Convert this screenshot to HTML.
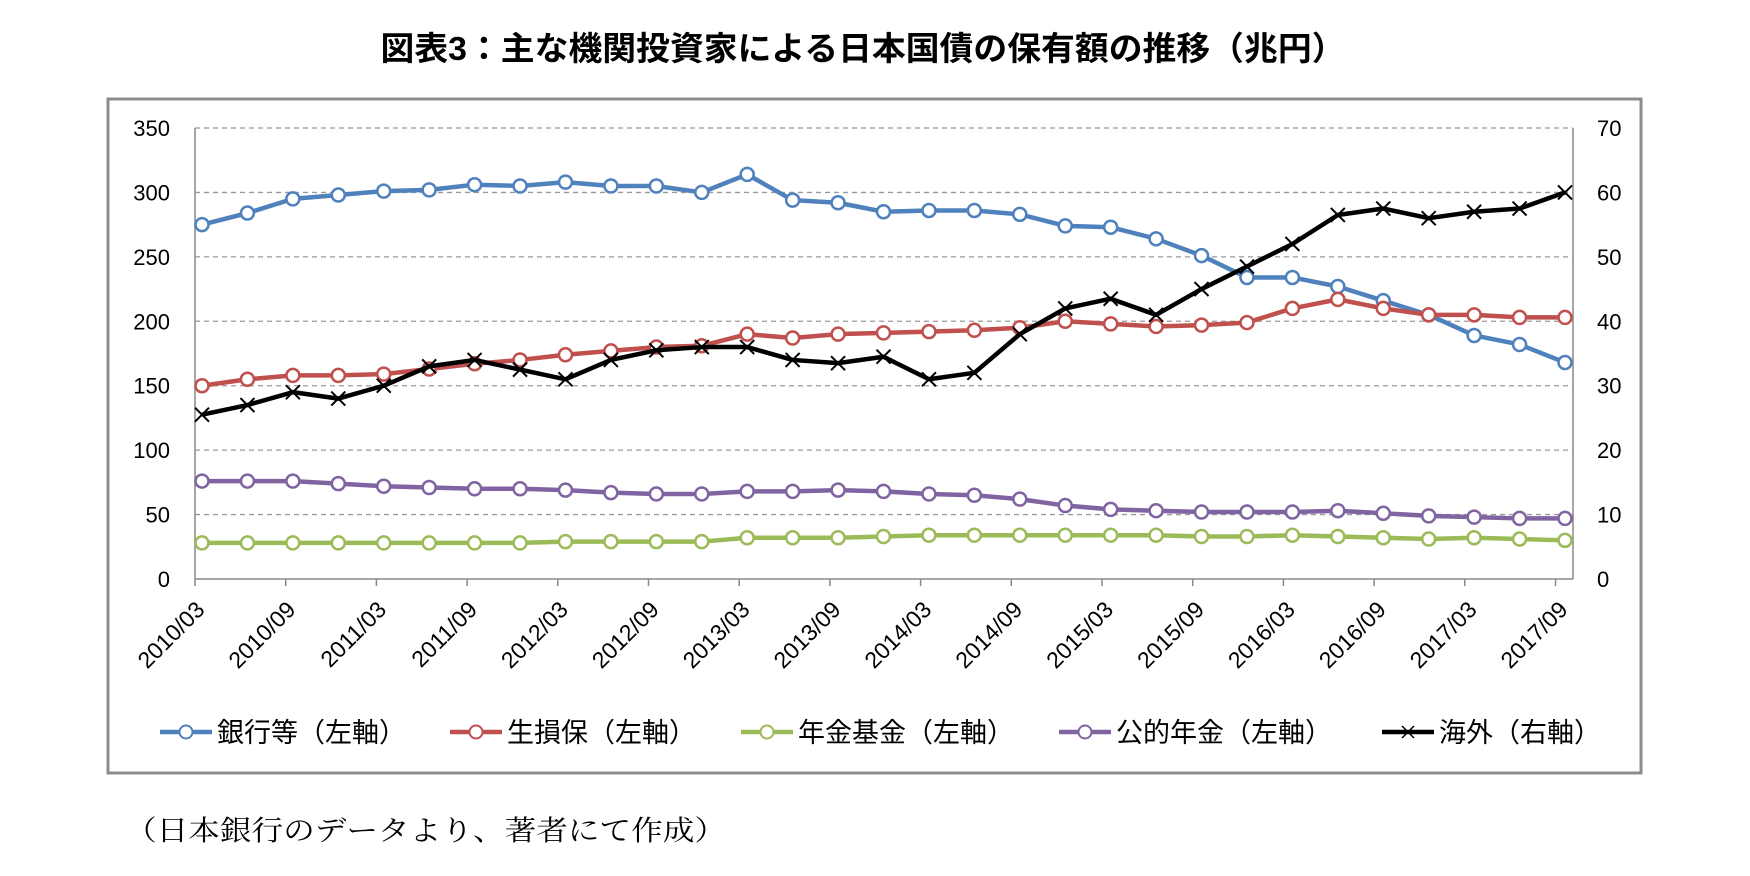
<!DOCTYPE html>
<html><head><meta charset="utf-8"><style>
html,body{margin:0;padding:0;background:#fff;}
svg{display:block;font-family:"Liberation Sans","Noto Sans CJK JP",sans-serif;}
</style></head><body>
<svg id="chart" width="1750" height="876" viewBox="0 0 1750 876">
<text x="863" y="60" text-anchor="middle" font-size="33" font-weight="bold" textLength="965" lengthAdjust="spacingAndGlyphs">図表3：主な機関投資家による日本国債の保有額の推移（兆円）</text>
<rect x="108" y="99" width="1533" height="674" fill="#fff" stroke="#8c8c8c" stroke-width="3"/>
<g id="grid"></g>
<g id="axes"></g>
<g id="series"></g>
<g id="legend"></g>
<text x="125" y="840" font-size="28" font-family="'Liberation Serif','Noto Serif CJK SC',serif" textLength="601" lengthAdjust="spacingAndGlyphs">（日本銀行のデータより、著者にて作成）</text>
</svg>
<script>
const categories = ["2010/03","2010/06","2010/09","2010/12","2011/03","2011/06","2011/09","2011/12","2012/03","2012/06","2012/09","2012/12","2013/03","2013/06","2013/09","2013/12","2014/03","2014/06","2014/09","2014/12","2015/03","2015/06","2015/09","2015/12","2016/03","2016/06","2016/09","2016/12","2017/03","2017/06","2017/09"];
const banks = [275,284,295,298,301,302,306,305,308,305,305,300,314,294,292,285,286,286,283,274,273,264,251,234,234,227,216,205,189,182,168];
const insurers = [150,155,158,158,159,163,167,170,174,177,180,181,190,187,190,191,192,193,195,200,198,196,197,199,210,217,210,205,205,203,203];
const pensionFunds = [28,28,28,28,28,28,28,28,29,29,29,29,32,32,32,33,34,34,34,34,34,34,33,33,34,33,32,31,32,31,30];
const publicPension = [76,76,76,74,72,71,70,70,69,67,66,66,68,68,69,68,66,65,62,57,54,53,52,52,52,53,51,49,48,47,47];
const overseas = [25.5,27,29,28,30,33,34,32.5,31,34,35.5,36,36,34,33.5,34.5,31,32,38,42,43.5,41,45,48.5,52,56.5,57.5,56,57,57.5,60];
const leftTicks = [0,50,100,150,200,250,300,350];
const rightTicks = [0,10,20,30,40,50,60,70];
const legendLabels = ["銀行等（左軸）","生損保（左軸）","年金基金（左軸）","公的年金（左軸）","海外（右軸）"];

const NS="http://www.w3.org/2000/svg";
const X0=195, X1=1573, Y0=579, Y1=128;
const LMAX=350, RMAX=70;
function xPt(i){return 202+i*(1565-202)/(categories.length-1);}
function yL(v){return Y0-(v/LMAX)*(Y0-Y1);}
function yR(v){return Y0-(v/RMAX)*(Y0-Y1);}
function mk(tag,attrs,parent){const e=document.createElementNS(NS,tag);for(const k in attrs)e.setAttribute(k,attrs[k]);parent.appendChild(e);return e;}
const grid=document.getElementById('grid'),axes=document.getElementById('axes'),ser=document.getElementById('series'),leg=document.getElementById('legend');

leftTicks.forEach(v=>{
  if(v>0){const g=mk('line',{x1:X0,x2:X1,y1:yL(v),y2:yL(v),stroke:'#999','stroke-width':1.3,'stroke-dasharray':'5,4'},grid);
  
  }
  const t=mk('text',{x:170,y:yL(v)+8,'text-anchor':'end','font-size':22,fill:'#000'},axes);t.textContent=v;
  
  
});
rightTicks.forEach(v=>{
  const t=mk('text',{x:1597,y:yR(v)+8,'font-size':22,fill:'#000'},axes);t.textContent=v;
  
  
});
mk('line',{x1:X0,x2:X0,y1:Y1,y2:Y0,stroke:'#888','stroke-width':1.5},axes);
mk('line',{x1:X1,x2:X1,y1:Y1,y2:Y0,stroke:'#888','stroke-width':1.5},axes);
mk('line',{x1:X0,x2:X1,y1:Y0,y2:Y0,stroke:'#888','stroke-width':1.5},axes);
for(let k=0;k*2<categories.length;k++){
  const tx=X0+k*90.7;
  mk('line',{x1:tx,x2:tx,y1:Y0,y2:Y0+7,stroke:'#888','stroke-width':1.5},axes);
  const px=xPt(k*2);
  const t=mk('text',{x:px+4,y:Y0+32,'text-anchor':'end','font-size':23,transform:`rotate(-45 ${px+4} ${Y0+32})`},axes);
  t.textContent=categories[k*2];
  
  
}
const lefts=[[banks,'#4F81BD','banks'],[insurers,'#C0504D','insurers'],[pensionFunds,'#9BBB59','pension-funds'],[publicPension,'#8064A2','public-pension']];
lefts.forEach(([d,c,n])=>{
  const p=mk('polyline',{points:d.map((v,i)=>xPt(i)+','+yL(v)).join(' '),fill:'none',stroke:c,'stroke-width':4.5,'stroke-linejoin':'round'},ser);
  
  
  d.forEach((v,i)=>{const m=mk('circle',{cx:xPt(i),cy:yL(v),r:6.5,fill:'#fff',stroke:c,'stroke-width':2.5},ser);
  
  });
});
const ol=mk('polyline',{points:overseas.map((v,i)=>xPt(i)+','+yR(v)).join(' '),fill:'none',stroke:'#000','stroke-width':4.5,'stroke-linejoin':'round'},ser);


overseas.forEach((v,i)=>{const x=xPt(i),y=yR(v);
  const m=mk('path',{d:`M${x-7} ${y-7}L${x+7} ${y+7}M${x-7} ${y+7}L${x+7} ${y-7}`,stroke:'#000','stroke-width':2},ser);
  
  });

const lx=[160,450,741,1059,1382], lc=['#4F81BD','#C0504D','#9BBB59','#8064A2','#000'];
legendLabels.forEach((s,i)=>{
  const g=mk('g',{},leg);
  
  
  const x=lx[i],y=732;
  mk('line',{x1:x,x2:x+52,y1:y,y2:y,stroke:lc[i],'stroke-width':4.5},g);
  if(i<4) mk('circle',{cx:x+26,cy:y,r:6.5,fill:'#fff',stroke:lc[i],'stroke-width':2},g);
  else mk('path',{d:`M${x+20} ${y-6}L${x+32} ${y+6}M${x+20} ${y+6}L${x+32} ${y-6}`,stroke:'#000','stroke-width':1.5},g);
  const t=mk('text',{x:x+57,y:y+10,'font-size':27},g);t.textContent=s;
});
</script>
</body></html>
